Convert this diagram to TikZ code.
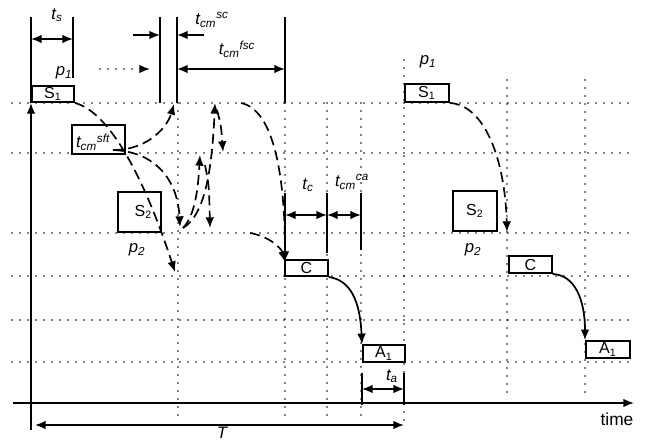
\documentclass[tikz,border=0pt]{standalone}
\usepackage{fontspec}
\setmainfont{Liberation Sans}
\usetikzlibrary{arrows.meta}
\begin{document}
\begin{tikzpicture}[x=0.75pt,y=-0.75pt,
  gridline/.style={line width=1.3pt, dash pattern=on 0pt off 6pt, line cap=round},
  solidline/.style={line width=1.3pt},
  tip/.style={-{Latex[length=8pt,width=6.5pt]}},
  dtip/.style={{Latex[length=8pt,width=6.5pt]}-{Latex[length=8pt,width=6.5pt]}},
  dcurve/.style={line width=1.25pt, dash pattern=on 7.5pt off 4pt, -{Latex[length=8pt,width=6.5pt]}},
  scurve/.style={line width=1.3pt, -{Latex[length=8pt,width=6.5pt]}},
  tbox/.style={draw, line width=1.3pt, inner sep=0pt, anchor=south west, fill=white,
               font=\fontsize{12}{14}\selectfont},
  lab/.style={font=\fontsize{12.5}{14}\selectfont\itshape, inner sep=0pt}]
\useasboundingbox (0,0) rectangle (661,441);

% horizontal grid
\foreach \yy in {103,153,233,276,320,362}
  \draw[gridline] (12,\yy) -- (634,\yy);
% vertical grid
\draw[gridline] (178,103) -- (178,420);
\draw[gridline] (285,103) -- (285,420);
\draw[gridline] (327,103) -- (327,420);
\draw[gridline] (361,103) -- (361,420);
\draw[gridline] (404,60) -- (404,420);
\draw[gridline] (507,80) -- (507,398);
\draw[gridline] (585,80) -- (585,398);

% axes
\coordinate (ax0) at (31,430);
\coordinate (ax1) at (31,103);
\coordinate (tx0) at (13,403);
\coordinate (tx1) at (634,403);
\draw[solidline, tip] (ax0) -- (ax1);
\draw[solidline, tip] (tx0) -- (tx1);
\node[font=\fontsize{13}{15}\selectfont, inner sep=0pt] (time) at (617,419) {time};

% top measurement lines
\draw[solidline] (31,17) -- (31,103);
\draw[solidline] (73,17) -- (73,78);
\draw[solidline] (160,17) -- (160,103);
\draw[solidline] (177,17) -- (177,103);
\draw[solidline] (285,17) -- (285,103);
\coordinate (ts0) at (31,39); \coordinate (ts1) at (73,39);
\draw[solidline, dtip] (ts0) -- (ts1);
\node[lab] (tslab) at (57,15) {t\textsubscript{s}};
\coordinate (sa0) at (133,35); \coordinate (sa1) at (160,35);
\draw[solidline, tip] (sa0) -- (sa1);
\coordinate (sb0) at (204,35); \coordinate (sb1) at (177,35);
\draw[solidline, tip] (sb0) -- (sb1);
\node[lab] (tsclab) at (212,20) {t\textsubscript{cm}\textsuperscript{sc}};
\coordinate (da0) at (100,69); \coordinate (da1) at (150,69);
\draw[gridline, -{Latex[length=8pt,width=6.5pt]}] (da0) -- (da1);
\coordinate (fa0) at (177,69); \coordinate (fa1) at (285,69);
\draw[solidline, dtip] (fa0) -- (fa1);
\node[lab] (tfsclab) at (237,49) {t\textsubscript{cm}\textsuperscript{fsc}};
\node[lab] (p1a) at (64,73) {p\textsubscript{1}};

% t_c and t_cm^ca
\draw[solidline] (285,193) -- (285,262);
\draw[solidline] (327,193) -- (327,253);
\draw[solidline] (361,193) -- (361,250);
\coordinate (tc0) at (285,215); \coordinate (tc1) at (327,215); \coordinate (tc2) at (361,215);
\draw[solidline, dtip] (tc0) -- (tc1);
\draw[solidline, dtip] (tc1) -- (tc2);
\node[lab] (tclab) at (308,185) {t\textsubscript{c}};
\node[lab] (tcalab) at (352,182) {t\textsubscript{cm}\textsuperscript{ca}};

% t_a
\draw[solidline] (362,373) -- (362,405);
\draw[solidline] (404,373) -- (404,405);
\coordinate (ta0) at (362,389); \coordinate (ta1) at (404,389);
\draw[solidline, dtip] (ta0) -- (ta1);
\node[lab] (talab) at (392,376) {t\textsubscript{a}};

% T
\coordinate (T0) at (35,425); \coordinate (T1) at (404,425);
\draw[solidline, dtip] (T0) -- (T1);
\node[lab] (Tlab) at (222,433) {T};

% boxes left
\node[tbox, minimum width=31.5pt, minimum height=12pt] (S1) at (31,103) {S\textsubscript{1}};
\node[tbox, minimum width=39.75pt, minimum height=21.75pt] (sft) at (71,155) {};
\node[lab] (sftlab) at (93,142) {t\textsubscript{cm}\textsuperscript{sft}};
\node[tbox, minimum width=32.25pt, minimum height=30pt] (S2) at (117,233) {\hspace*{6pt}S\textsubscript{2}};
\node[lab] (p2a) at (137,250) {p\textsubscript{2}};
\node[tbox, minimum width=32.25pt, minimum height=12pt] (C) at (284,277) {C};
\node[tbox, minimum width=31.5pt, minimum height=12.75pt] (A1) at (362,363) {A\textsubscript{1}};

% boxes right
\node[lab] (p1b) at (428,62) {p\textsubscript{1}};
\node[tbox, minimum width=33pt, minimum height=13.5pt] (S1r) at (404,103) {S\textsubscript{1}};
\node[tbox, minimum width=33pt, minimum height=30pt] (S2r) at (452,232) {S\textsubscript{2}};
\node[lab] (p2b) at (473,250) {p\textsubscript{2}};
\node[tbox, minimum width=32.25pt, minimum height=12.75pt] (Cr) at (508,274) {C};
\node[tbox, minimum width=33pt, minimum height=12.75pt] (A1r) at (585,359) {A\textsubscript{1}};

% dashed curves left
\coordinate (a0) at (75,103);  \coordinate (a1) at (175,272);
\draw[dcurve] (a0) .. controls (110,112) and (145,180) .. (a1);
\coordinate (b0) at (113,150); \coordinate (b1) at (174,104);
\draw[dcurve] (b0) .. controls (150,150) and (168,125) .. (b1);
\coordinate (c1) at (180,227);
\draw[dcurve] (b0) .. controls (160,152) and (178,185) .. (c1);
\coordinate (d0) at (183,228); \coordinate (d1) at (200,155);
\draw[dcurve] (d0) .. controls (195,215) and (198,190) .. (d1);
\coordinate (e1) at (215,103);
\draw[dcurve] (d0) .. controls (205,215) and (212,170) .. (e1);
\coordinate (f0) at (217,110); \coordinate (f1) at (223,152);
\draw[dcurve] (f0) .. controls (221,125) .. (f1);
\coordinate (g0) at (205,165); \coordinate (g1) at (210,228);
\draw[dcurve] (g0) .. controls (209,185) .. (g1);
\coordinate (h0) at (241,103); \coordinate (h1) at (285,262);
\draw[dcurve] (h0) .. controls (275,110) and (285,180) .. (h1);
\coordinate (k0) at (250,233);
\draw[dcurve] (k0) .. controls (272,237) and (282,250) .. (h1);

% solid curve C -> A1
\draw[scurve] (C.south east) .. controls (350,280) and (360,300) .. (A1.north west);

% right curves
\draw[dcurve] (S1r.south east) .. controls (485,105) and (505,160) .. (507,232);
\draw[scurve] (Cr.south east) .. controls (575,275) and (585,300) .. (A1r.north west);
\end{tikzpicture}
\end{document}
